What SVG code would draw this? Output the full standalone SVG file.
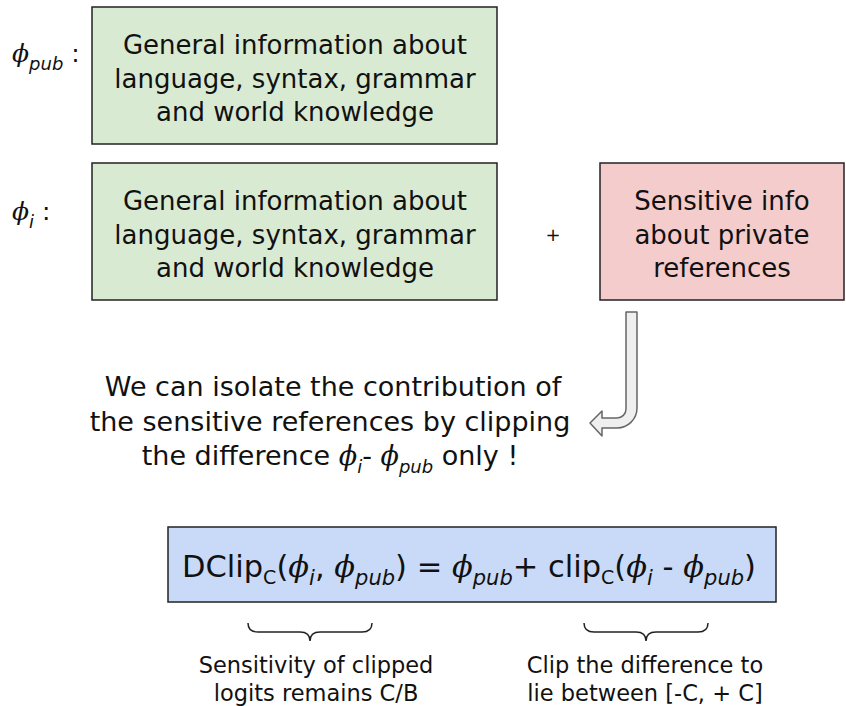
<svg xmlns="http://www.w3.org/2000/svg" width="846" height="706" viewBox="0 0 846 706">
<style>
.t{font-family:"DejaVu Sans","Liberation Sans",sans-serif;fill:#111;}
.box{stroke:#222;stroke-width:1.5;}
.phi{font-family:"DejaVu Serif","Liberation Serif",serif;font-style:italic;}
.it{font-style:italic;}
</style>
<rect width="846" height="706" fill="#fff"/>
<g id="phi-pub-label">
<text class="t" x="12" y="62" font-size="25"><tspan class="phi">ϕ</tspan><tspan class="it" font-size="18" dy="8">pub</tspan><tspan dy="-8"> :</tspan></text>
</g>
<g id="box-pub">
<rect class="box" x="92" y="7" width="405" height="137" fill="#d9ead3"/>
<text class="t" font-size="26" text-anchor="middle"><tspan x="295" y="54">General information about</tspan><tspan x="295" y="88">language, syntax, grammar</tspan><tspan x="295" y="121">and world knowledge</tspan></text>
</g>
<g id="phi-i-label">
<text class="t" x="12" y="220" font-size="25"><tspan class="phi">ϕ</tspan><tspan class="it" font-size="18" dy="8">i</tspan><tspan dy="-8">  :</tspan></text>
</g>
<g id="box-i">
<rect class="box" x="92" y="163" width="405" height="137" fill="#d9ead3"/>
<text class="t" font-size="26" text-anchor="middle"><tspan x="295" y="210">General information about</tspan><tspan x="295" y="244">language, syntax, grammar</tspan><tspan x="295" y="277">and world knowledge</tspan></text>
</g>
<g id="plus">
<text class="t" x="553" y="241" font-size="18" text-anchor="middle">+</text>
</g>
<g id="box-sensitive">
<rect class="box" x="600" y="163" width="244" height="137" fill="#f4cccc"/>
<text class="t" font-size="26" text-anchor="middle"><tspan x="722" y="210">Sensitive info</tspan><tspan x="722" y="244">about private</tspan><tspan x="722" y="277">references</tspan></text>
</g>
<g id="connectors">
<path d="M626,312 L637,312 L637,408 A20,20 0 0 1 617,428 L602,428 L602,436 L590,423 L602,411 L602,418 L617,418 A9,9 0 0 0 626,409 Z" fill="#efefef" stroke="#666" stroke-width="1.5" stroke-linejoin="round"/>
</g>
<g id="explanation">
<text class="t" font-size="27" text-anchor="middle"><tspan x="333" y="396">We can isolate the contribution of</tspan><tspan x="330" y="431">the sensitive references by clipping</tspan></text>
<text class="t" font-size="27" x="330" y="465" text-anchor="middle">the difference <tspan class="phi">ϕ</tspan><tspan class="it" font-size="18" dy="8">i</tspan><tspan dy="-8">- </tspan><tspan class="phi">ϕ</tspan><tspan class="it" font-size="18" dy="8">pub</tspan><tspan dy="-8"> only !</tspan></text>
</g>
<g id="box-formula">
<rect class="box" x="168" y="527" width="608" height="75" fill="#c9daf8"/>
<text class="t" font-size="30.5" x="182" y="577">DClip<tspan font-size="19" dy="7">C</tspan><tspan dy="-7">(</tspan><tspan class="phi">ϕ</tspan><tspan class="it" font-size="21" dy="8">i</tspan><tspan dy="-8">, </tspan><tspan class="phi">ϕ</tspan><tspan class="it" font-size="21" dy="8">pub</tspan><tspan dy="-8">) = </tspan><tspan class="phi">ϕ</tspan><tspan class="it" font-size="21" dy="8">pub</tspan><tspan dy="-8">+ clip</tspan><tspan font-size="19" dy="7">C</tspan><tspan dy="-7">(</tspan><tspan class="phi">ϕ</tspan><tspan class="it" font-size="21" dy="8">i</tspan><tspan dy="-8"> - </tspan><tspan class="phi">ϕ</tspan><tspan class="it" font-size="21" dy="8">pub</tspan><tspan dy="-8">)</tspan></text>
</g>
<g id="brace-left">
<path d="M248,623 Q248,632 258,632 L300,632 Q310,632 310,641 Q310,632 320,632 L362,632 Q372,632 372,623" fill="none" stroke="#222" stroke-width="1.5"/>
<text class="t" font-size="22.5" text-anchor="middle"><tspan x="316" y="673">Sensitivity of clipped</tspan><tspan x="316" y="701">logits remains C/B</tspan></text>
</g>
<g id="brace-right">
<path d="M584,623 Q584,632 594,632 L636,632 Q646,632 646,641 Q646,632 656,632 L698,632 Q708,632 708,623" fill="none" stroke="#222" stroke-width="1.5"/>
<text class="t" font-size="22.5" text-anchor="middle"><tspan x="645" y="673">Clip the difference to</tspan><tspan x="645" y="701">lie between [-C, + C]</tspan></text>
</g>
</svg>
